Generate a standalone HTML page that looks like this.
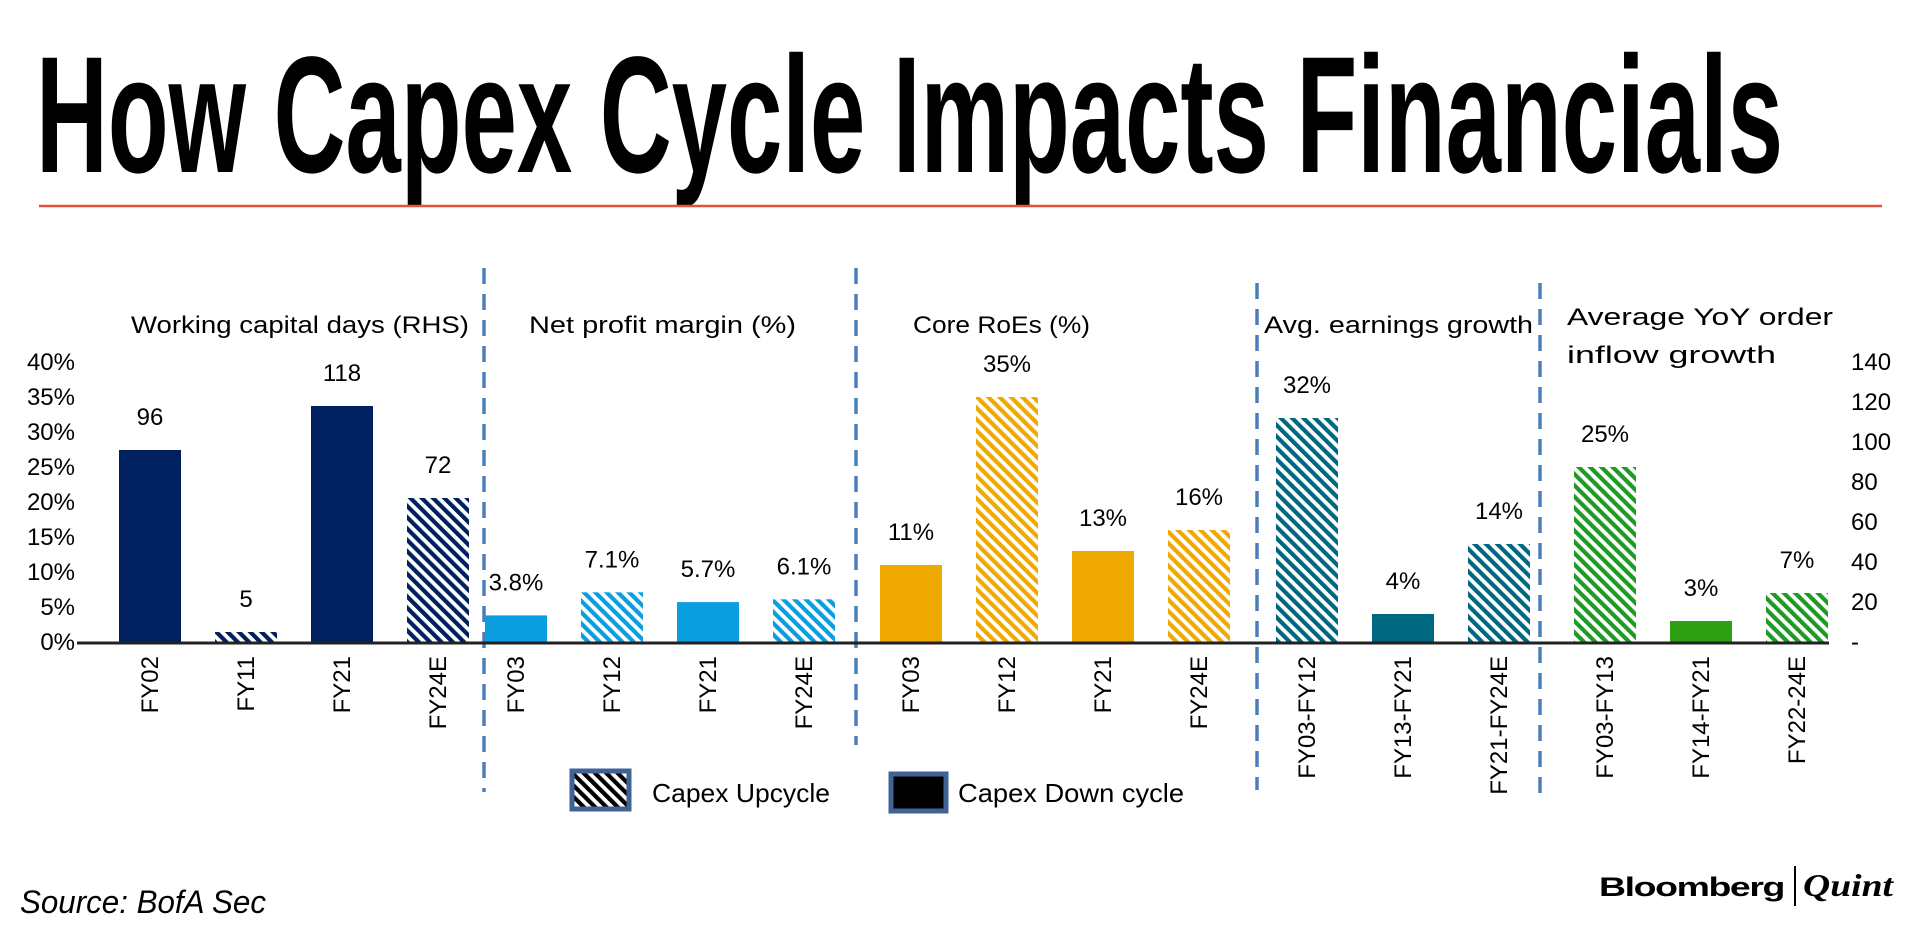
<!DOCTYPE html>
<html><head><meta charset="utf-8">
<style>
html,body{margin:0;padding:0;background:#fff;}
svg{display:block;}
</style></head>
<body>
<svg id="chart" width="1920" height="938" viewBox="0 0 1920 938" xmlns="http://www.w3.org/2000/svg">
<defs>
<pattern id="h-navy" patternUnits="userSpaceOnUse" width="8" height="8" patternTransform="rotate(-45)"><rect width="8" height="8" fill="#fff"/><rect width="4.2" height="8" fill="#002060"/></pattern>
<pattern id="h-blue" patternUnits="userSpaceOnUse" width="8" height="8" patternTransform="rotate(-45)"><rect width="8" height="8" fill="#fff"/><rect width="4.2" height="8" fill="#0a9ee0"/></pattern>
<pattern id="h-orange" patternUnits="userSpaceOnUse" width="8" height="8" patternTransform="rotate(-45)"><rect width="8" height="8" fill="#fff"/><rect width="4.2" height="8" fill="#f0a900"/></pattern>
<pattern id="h-teal" patternUnits="userSpaceOnUse" width="8" height="8" patternTransform="rotate(-45)"><rect width="8" height="8" fill="#fff"/><rect width="4.2" height="8" fill="#006780"/></pattern>
<pattern id="h-green" patternUnits="userSpaceOnUse" width="8" height="8" patternTransform="rotate(-45)"><rect width="8" height="8" fill="#fff"/><rect width="4.2" height="8" fill="#1f9a24"/></pattern>
<pattern id="h-black" patternUnits="userSpaceOnUse" width="8" height="8" patternTransform="rotate(-45)"><rect width="8" height="8" fill="#fff"/><rect width="4.2" height="8" fill="#000"/></pattern>
</defs>
<text x="36" y="172" font-family="'Liberation Sans Narrow','Liberation Sans',sans-serif" font-weight="bold" font-size="166" textLength="1747" lengthAdjust="spacingAndGlyphs" fill="#000">How Capex Cycle Impacts Financials</text>
<line x1="39" y1="206" x2="1882" y2="206" stroke="#e0553a" stroke-width="2.5"/>
<g id="plot"></g>
<g>
<rect x="572" y="771" width="57" height="38" fill="url(#h-black)" stroke="#3f6494" stroke-width="5"/>
<text x="652" y="802" font-family="'Liberation Sans',sans-serif" font-size="26" textLength="178" lengthAdjust="spacingAndGlyphs">Capex Upcycle</text>
<rect x="891" y="774" width="55" height="37" fill="#000" stroke="#3f6494" stroke-width="5"/>
<text x="958" y="802" font-family="'Liberation Sans',sans-serif" font-size="26" textLength="226" lengthAdjust="spacingAndGlyphs">Capex Down cycle</text>
</g>
<text x="20" y="913" font-family="'Liberation Sans Narrow','Liberation Sans',sans-serif" font-style="italic" font-size="32" textLength="246" lengthAdjust="spacingAndGlyphs">Source: BofA Sec</text>
<g>
<text x="1599" y="896" font-family="'Liberation Sans',sans-serif" font-weight="bold" font-size="27" textLength="185" lengthAdjust="spacingAndGlyphs" letter-spacing="-1">Bloomberg</text>
<line x1="1795" y1="866" x2="1795" y2="906" stroke="#000" stroke-width="2"/>
<text x="1803" y="896" font-family="'Liberation Serif',serif" font-style="italic" font-weight="bold" font-size="32" textLength="90" lengthAdjust="spacingAndGlyphs">Quint</text>
</g>
</svg>
<script>
// ---- data ----
const categories = ["FY02","FY11","FY21","FY24E","FY03","FY12","FY21","FY24E","FY03","FY12","FY21","FY24E","FY03-FY12","FY13-FY21","FY21-FY24E","FY03-FY13","FY14-FY21","FY22-24E"];
const groupOf = [0,0,0,0,1,1,1,1,2,2,2,2,3,3,3,4,4,4];
const values = [96,5,118,72,3.8,7.1,5.7,6.1,11,35,13,16,32,4,14,25,3,7];
const valueLabels = ["96","5","118","72","3.8%","7.1%","5.7%","6.1%","11%","35%","13%","16%","32%","4%","14%","25%","3%","7%"];
const upcycle = [false,true,false,true,false,true,false,true,false,true,false,true,true,false,true,true,false,true];
const usesRightAxis = [true,true,true,true,false,false,false,false,false,false,false,false,false,false,false,false,false,false];
const groupTitles = [["Working capital days (RHS)"],["Net profit margin (%)"],["Core RoEs (%)"],["Avg. earnings growth"],["Average YoY order","inflow growth"]];
const leftTicks = [0,5,10,15,20,25,30,35,40];
const leftTickLabels = ["0%","5%","10%","15%","20%","25%","30%","35%","40%"];
const rightTicks = [0,20,40,60,80,100,120,140];
const rightTickLabels = ["-","20","40","60","80","100","120","140"];

(function(){
const NS="http://www.w3.org/2000/svg";
const plot=document.getElementById('plot');
const base=642, plotTop=362;
const yL=v=>base-(v/40)*(base-plotTop);
const yR=v=>base-(v/140)*(base-plotTop);
const groupStart=[150,516,911,1307,1605], step=96, barW=62;
const solidColors=["#002060","#0a9ee0","#f0a900","#006780","#2e9e12"];
const hatch=["h-navy","h-blue","h-orange","h-teal","h-green"];
const titleX=[[131,469],[529,796],[913,1090],[1264,1533],[1567,1833]];
const fam="'Liberation Sans Narrow','Liberation Sans',sans-serif";
function mk(tag,attrs){const e=document.createElementNS(NS,tag);for(const k in attrs)e.setAttribute(k,attrs[k]);return e;}
const idxInGroup=[];{let c={};groupOf.forEach((g,i)=>{c[g]=(c[g]||0);idxInGroup[i]=c[g]++;});}
const xC=i=>groupStart[groupOf[i]]+idxInGroup[i]*step;

[[484,268,792],[856,268,745],[1257,283,790],[1540,283,793]].forEach(s=>{
 const l=mk('line',{x1:s[0],x2:s[0],y1:s[1],y2:s[2],stroke:'#4a7ebb','stroke-width':3.5,'stroke-dasharray':'16 10'});
 
 
 plot.appendChild(l);
});

leftTicks.forEach((t,i)=>{
 const e=mk('text',{x:75,y:yL(t)+8,'text-anchor':'end','font-family':fam,'font-size':24});
 e.textContent=leftTickLabels[i];
 
 
 plot.appendChild(e);
});
rightTicks.forEach((t,i)=>{
 const e=mk('text',{x:1851,y:yR(t)+8,'font-family':fam,'font-size':24});
 e.textContent=rightTickLabels[i];
 
 
 plot.appendChild(e);
});

groupTitles.forEach((lines,g)=>{
 lines.forEach((s,k)=>{
  const y = lines.length>1 ? 325+k*38 : 333;
  const e=mk('text',{x:titleX[g][0],y:y,'font-family':"'Liberation Sans',sans-serif",'font-size':24,textLength:(k==1?209:titleX[g][1]-titleX[g][0]),lengthAdjust:'spacingAndGlyphs'});
  e.textContent=s;
  
  
  plot.appendChild(e);
 });
});

values.forEach((v,i)=>{
 const g=groupOf[i];
 const yt=usesRightAxis[i]?yR(v):yL(v);
 const r=mk('rect',{x:xC(i)-barW/2,y:yt,width:barW,height:base-yt,fill:upcycle[i]?`url(#${hatch[g]})`:solidColors[g]});
 
 
 plot.appendChild(r);
 const t=mk('text',{x:xC(i),y:yt-25,'text-anchor':'middle','font-family':fam,'font-size':24});
 t.textContent=valueLabels[i];
 
 
 plot.appendChild(t);
 const c=mk('text',{x:0,y:0,'text-anchor':'end','font-family':fam,'font-size':24,transform:`translate(${xC(i)+8},656) rotate(-90)`});
 c.textContent=categories[i];
 
 
 plot.appendChild(c);
});

const ax=mk('line',{x1:77,x2:1829,y1:base+1,y2:base+1,stroke:'#222','stroke-width':3});


plot.appendChild(ax);
})();
</script>
</body></html>
